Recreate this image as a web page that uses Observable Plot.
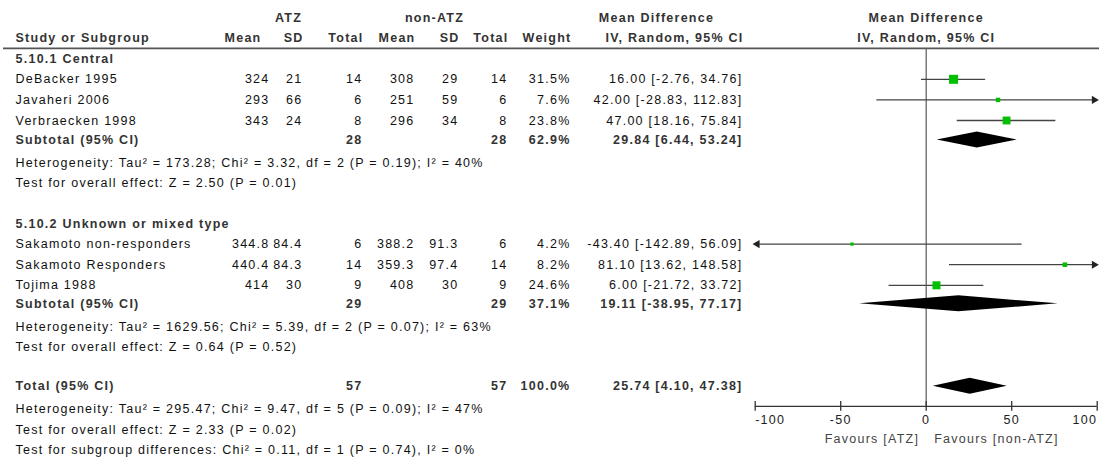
<!DOCTYPE html>
<html><head><meta charset="utf-8">
<script src="https://cdn.jsdelivr.net/npm/d3@7"></script>
<script src="https://cdn.jsdelivr.net/npm/@observablehq/plot@0.6"></script>
<style>
html,body{margin:0;padding:0;background:#fff;}
svg text{letter-spacing:1.25px;}
svg text[font-weight="bold"]{letter-spacing:1px;}
</style>
</head><body><div id="chart"></div>
<script>
// ---- data ----
const studies   = ["DeBacker 1995","Javaheri 2006","Verbraecken 1998","Sakamoto non-responders","Sakamoto Responders","Tojima 1988"];
const atzMean   = ["324","293","343","344.8","440.4","414"];
const atzSD     = ["21","66","24","84.4","84.3","30"];
const atzN      = [14,6,8,6,14,9];
const nonMean   = ["308","251","296","388.2","359.3","408"];
const nonSD     = ["29","59","34","91.3","97.4","30"];
const nonN      = [14,6,8,6,14,9];
const weights   = [31.5,7.6,23.8,4.2,8.2,24.6];
const md        = [16.00,42.00,47.00,-43.40,81.10,6.00];
const mdLo      = [-2.76,-28.83,18.16,-142.89,13.62,-21.72];
const mdHi      = [34.76,112.83,75.84,56.09,148.58,33.72];

const groups    = ["5.10.1 Central","5.10.2 Unknown or mixed type"];
const sumLabels = ["Subtotal (95% CI)","Subtotal (95% CI)","Total (95% CI)"];
const sumN1     = [28,29,57];
const sumN2     = [28,29,57];
const sumW      = [62.9,37.1,100.0];
const sumEst    = [29.84,19.11,25.74];
const sumLo     = [6.44,-38.95,4.10];
const sumHi     = [53.24,77.17,47.38];

const notes = [
  "Heterogeneity: Tau² = 173.28; Chi² = 3.32, df = 2 (P = 0.19); I² = 40%",
  "Test for overall effect: Z = 2.50 (P = 0.01)",
  "Heterogeneity: Tau² = 1629.56; Chi² = 5.39, df = 2 (P = 0.07); I² = 63%",
  "Test for overall effect: Z = 0.64 (P = 0.52)",
  "Heterogeneity: Tau² = 295.47; Chi² = 9.47, df = 5 (P = 0.09); I² = 47%",
  "Test for overall effect: Z = 2.33 (P = 0.02)",
  "Test for subgroup differences: Chi² = 0.11, df = 1 (P = 0.74), I² = 0%"
];
const tickValues = [-100,-50,0,50,100];
const tickLabels = ["-100","-50","0","50","100"];
const favours = ["Favours [ATZ]","Favours [non-ATZ]"];

// ---- layout (row slots & column anchors) ----
const studySlots = [3,4,5,11,12,13];
const groupSlots = [2,10];
const sumSlots   = [5.95,13.9,17.9];
const noteSlots  = [7.05,8.05,15,16,19,20,21];
const headerLine = 1.5, axisSlot = 18.88;
const col = {label:15, m1:269, sd1:302, n1:362, m2:414, sd2:458, n2:507, w:570, ci:742};
const FONT = "Liberation Sans, Arial, sans-serif";
const FS = 12.5;
const ciText = (e,l,h) => `${e.toFixed(2)} [${l.toFixed(2)}, ${h.toFixed(2)}]`;

const studyRows = studies.map((s,i) => ({
  slot: studySlots[i], label: s, m1: atzMean[i], sd1: atzSD[i], n1: String(atzN[i]),
  m2: nonMean[i], sd2: nonSD[i], n2: String(nonN[i]), w: weights[i].toFixed(1)+"%",
  ci: ciText(md[i], mdLo[i], mdHi[i]), md: md[i], lo: mdLo[i], hi: mdHi[i], weight: weights[i]
}));
const sumRows = sumLabels.map((s,i) => ({
  slot: sumSlots[i], label: s, n1: String(sumN1[i]), n2: String(sumN2[i]),
  w: sumW[i].toFixed(1)+"%", ci: ciText(sumEst[i], sumLo[i], sumHi[i]),
  est: sumEst[i], lo: sumLo[i], hi: sumHi[i]
}));
const groupRows = groups.map((g,i) => ({slot: groupSlots[i], label: g}));
const noteRows  = notes.map((n,i) => ({slot: noteSlots[i], label: n}));

const diamonds = sumRows.flatMap((r,i) => [
  {id:i, x:r.lo,  ya:r.slot, yb:r.slot},
  {id:i, x:r.est, ya:r.slot-0.39, yb:r.slot+0.39},
  {id:i, x:r.hi,  ya:r.slot, yb:r.slot}
]);
const arrowsL = studyRows.filter(r => r.lo < -100);
const arrowsR = studyRows.filter(r => r.hi > 100);

function textCols(rows, keys, bold, fill) {
  return keys.map(k => Plot.text(rows.filter(r => r[k] != null), {
    y: "slot", text: k, frameAnchor: "left", dx: col[k],
    textAnchor: k === "label" ? "start" : "end",
    fontWeight: bold ? "bold" : "normal", fill, fontSize: FS, fontFamily: FONT
  }));
}

const headers1 = [
  {t:"ATZ", x:288, a:"middle"}, {t:"non-ATZ", x:434, a:"middle"}, {t:"Mean Difference", x:656, a:"middle"}
];
const headers2 = [
  {t:"Study or Subgroup", x:15, a:"start"}, {t:"Mean", x:261, a:"end"}, {t:"SD", x:303, a:"end"},
  {t:"Total", x:363, a:"end"}, {t:"Mean", x:415, a:"end"}, {t:"SD", x:459, a:"end"},
  {t:"Total", x:508, a:"end"}, {t:"Weight", x:571, a:"end"}, {t:"IV, Random, 95% CI", x:743, a:"end"}
];
const headerMarks = [[headers1,0],[headers2,1]].flatMap(([hs,slot]) => hs.map(h =>
  Plot.text([h.t], {y: () => slot, text: d => d, frameAnchor:"left", dx:h.x, textAnchor:h.a,
    fontWeight:"bold", fill:"#333", fontSize:FS, fontFamily:FONT})));

const tickAnchor = (v) => v === tickValues[0] ? "start" : v === tickValues[tickValues.length-1] ? "end" : "middle";
const tickMarks = ["start","middle","end"].map(a =>
  Plot.text(tickValues.filter(v => tickAnchor(v) === a), {x: d => d, y: () => 19.56,
    text: d => tickLabels[tickValues.indexOf(d)], textAnchor: a, fill:"#222", fontSize:FS, fontFamily:FONT}));

const chart = Plot.plot({
  width: 1099, height: 464,
  marginLeft: 0, marginRight: 0, marginTop: 0, marginBottom: 0,
  style: {fontFamily: FONT, fontSize: FS + "px", background: "#fff"},
  x: {domain: [-100,100], range: [754.7,1096.7], axis: null},
  y: {domain: [0,21], range: [17, 17 + 21*20.6], axis: null},
  r: {type: "sqrt", domain: [0,31.5], range: [0,5.1]},
  marks: [
    ...headerMarks,
    Plot.text(["Mean Difference"], {x: () => 0, y: () => 0, text: d => d, fontWeight:"bold", fill:"#333", fontSize:FS, fontFamily:FONT}),
    Plot.text(["IV, Random, 95% CI"], {x: () => 0, y: () => 1, text: d => d, fontWeight:"bold", fill:"#333", fontSize:FS, fontFamily:FONT}),
    Plot.ruleY([headerLine], {stroke:"#555", strokeWidth:1.6, insetLeft:3}),
    ...textCols(groupRows, ["label"], true, "#333"),
    ...textCols(studyRows, ["label","m1","sd1","n1","m2","sd2","n2","w","ci"], false, "#111"),
    ...textCols(sumRows, ["label","n1","n2","w","ci"], true, "#333"),
    ...textCols(noteRows, ["label"], false, "#111"),
    // forest
    Plot.ruleX([0], {y1: headerLine + 0.03, y2: axisSlot, stroke:"#666", strokeWidth:1.3}),
    Plot.ruleY(studyRows, {y:"slot", x1: d => Math.max(d.lo,-100), x2: d => Math.min(d.hi,100), stroke:"#444", strokeWidth:1.3}),
    Plot.dot(arrowsL, {x: () => -100, y:"slot", symbol:"triangle", rotate: -90, r:3, fill:"#222", stroke:"none", dx: 2}),
    Plot.dot(arrowsR, {x: () => 100, y:"slot", symbol:"triangle", rotate: 90, r:3, fill:"#222", stroke:"none", dx: -3}),
    Plot.dot(studyRows, {x:"md", y:"slot", r:"weight", symbol:"square", fill:"#00c000", stroke:"none"}),
    Plot.areaY(diamonds, {x:"x", y1:"ya", y2:"yb", z:"id", fill:"#000", curve:"linear"}),
    // axis
    Plot.ruleY([axisSlot], {x1:-100, x2:100, stroke:"#333", strokeWidth:1.3}),
    Plot.ruleX(tickValues, {y1: axisSlot - 0.24, y2: axisSlot + 0.24, stroke:"#333", strokeWidth:1.3}),
    ...tickMarks,
    Plot.text([favours[0]], {x: () => 0, y: () => 20.44, text: d => d, textAnchor:"end", dx:-7, fill:"#444", fontSize:FS, fontFamily:FONT}),
    Plot.text([favours[1]], {x: () => 0, y: () => 20.44, text: d => d, textAnchor:"start", dx:8, fill:"#444", fontSize:FS, fontFamily:FONT})
  ]
});
document.getElementById("chart").appendChild(chart);
</script>
</body></html>
